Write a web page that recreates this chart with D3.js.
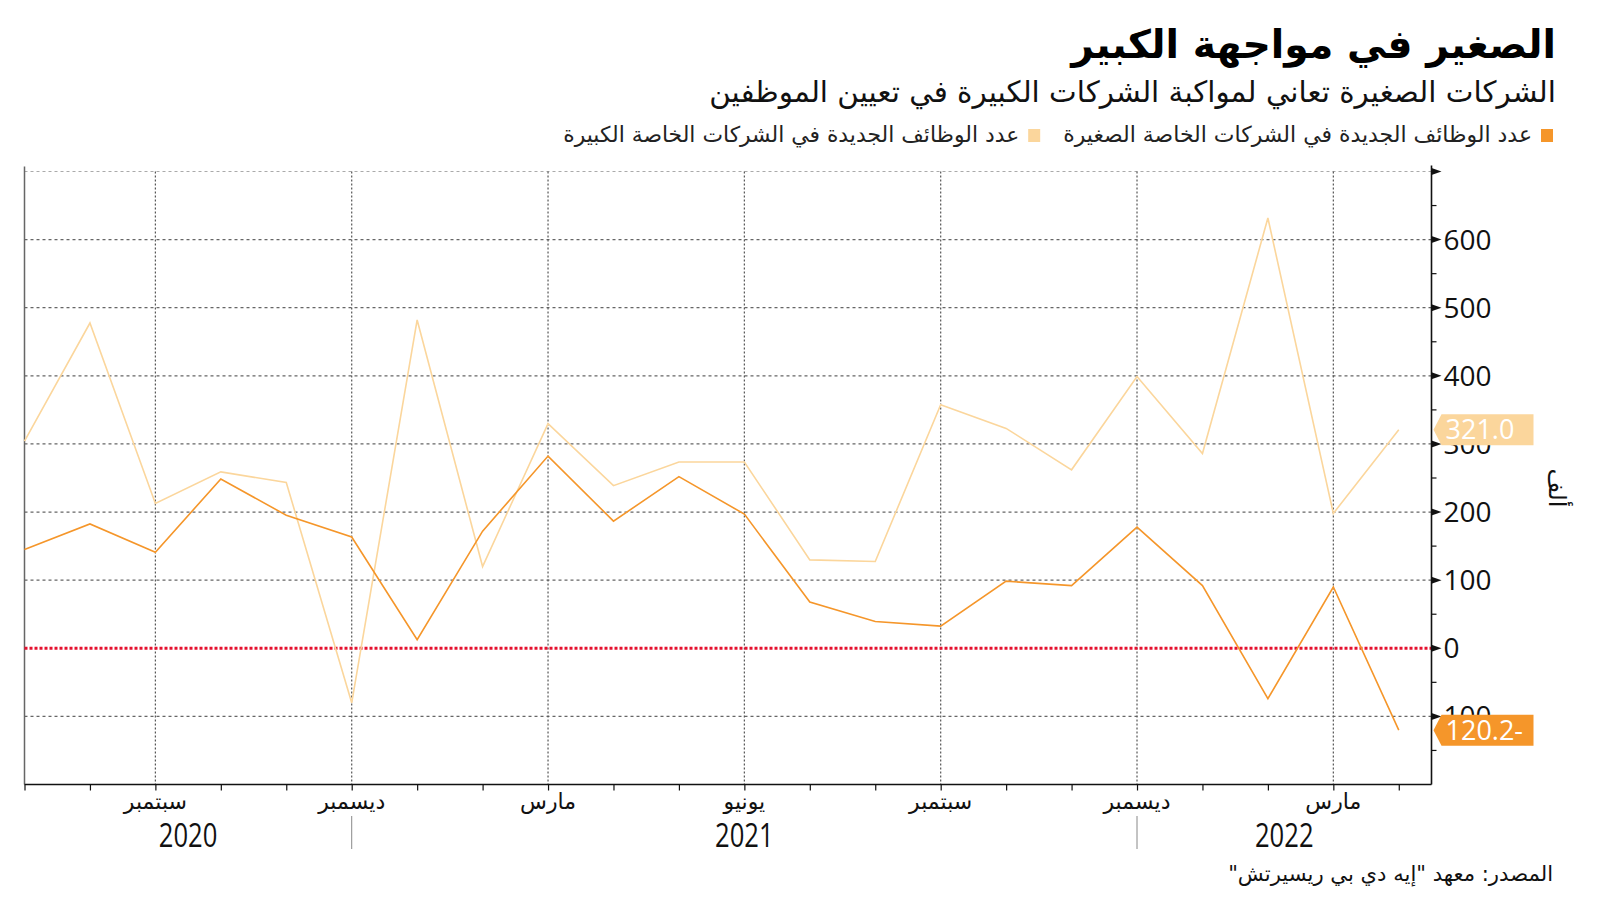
<!DOCTYPE html>
<html lang="ar">
<head>
<meta charset="utf-8">
<script src="https://cdn.jsdelivr.net/npm/d3@7/dist/d3.min.js"></script>
<style>
  html, body { margin: 0; padding: 0; background: #fff; }
  svg { display: block; }
  .ar { font-family: "DejaVu Sans", sans-serif; direction: rtl; unicode-bidi: embed; }
  .num { font-family: "Open Sans", "Noto Sans", sans-serif; }
  .cond { font-family: "Open Sans", "Noto Sans", sans-serif; }
</style>
</head>
<body>
<svg id="chart" width="1600" height="901"></svg>
<script>
// ---------------- DATA ----------------
const months = ["2020-07","2020-08","2020-09","2020-10","2020-11","2020-12",
                "2021-01","2021-02","2021-03","2021-04","2021-05","2021-06",
                "2021-07","2021-08","2021-09","2021-10","2021-11","2021-12",
                "2022-01","2022-02","2022-03","2022-04"];
// new jobs at small private companies (thousands)
const smallFirms = [145, 182.6, 141, 248.6, 195.3, 163.4, 12.7, 172, 282.2, 186.6, 252, 197,
                    67.8, 39.4, 32.5, 98.5, 92, 178, 92, -74, 90, -120.2];
// new jobs at large private companies (thousands)
const largeFirms = [304, 477.5, 212.7, 259, 243.4, -80, 482, 120, 329.8, 238.8, 273.5, 273.5,
                    129.8, 127.5, 357.6, 322.8, 262, 399, 286, 631.7, 198, 321];
const monthTickIdx = [2, 5, 8, 11, 14, 17, 20];
const monthTickLabels = ["سبتمبر", "ديسمبر", "مارس", "يونيو", "سبتمبر", "ديسمبر", "مارس"];
const yearLabels = ["2020", "2021", "2022"];
const yearBreakIdx = [5, 17];
const yTicks = [-100, 0, 100, 200, 300, 400, 500, 600];
const yMinorTicks = [-150, -50, 50, 150, 250, 350, 450, 550, 650];
const title = "الصغير في مواجهة الكبير";
const subtitle = "الشركات الصغيرة تعاني لمواكبة الشركات الكبيرة في تعيين الموظفين";
const seriesNames = ["عدد الوظائف الجديدة في الشركات الخاصة الصغيرة",
                     "عدد الوظائف الجديدة في الشركات الخاصة الكبيرة"];
const unitLabel = "ألف";
const source = "المصدر: معهد \"إيه دي بي ريسيرتش\"";

// ---------------- LAYOUT ----------------
const colSmall = "#f5962a";
const colLarge = "#fbd69c";
const svg = d3.select("#chart");
const L = 24.5, R = 1431.5, T = 171.5, B = 784.5;

const x = d3.scaleLinear().domain([0, 21.5]).range([L, R]);
const y = d3.scaleLinear().domain([-200, 700]).range([B, T]);

function fit(sel, target) {
  const w = sel.node().getComputedTextLength();
  const fs = parseFloat(sel.attr("font-size"));
  sel.attr("font-size", (fs * target / w).toFixed(2));
}

// ---------------- TITLES ----------------
const tt = svg.append("text").attr("class", "ar").attr("x", 1556).attr("y", 58)
  .attr("text-anchor", "start").attr("font-size", 42).attr("font-weight", "bold")
  .attr("fill", "#000").text(title);
fit(tt, 485);
const st = svg.append("text").attr("class", "ar").attr("x", 1556).attr("y", 102)
  .attr("text-anchor", "start").attr("font-size", 28).attr("fill", "#111").text(subtitle);
fit(st, 847);

// legend
const lg = svg.append("g");
let lx = 1553;
[colSmall, colLarge].forEach((c, i) => {
  lg.append("rect").attr("x", lx - 12).attr("y", 129).attr("width", 12).attr("height", 13).attr("fill", c);
  const t = lg.append("text").attr("class", "ar").attr("x", lx - 21).attr("y", 142)
    .attr("text-anchor", "start").attr("font-size", 19).attr("fill", "#222").text(seriesNames[i]);
  fit(t, i === 0 ? 469 : 456);
  lx = lx - 21 - t.node().getComputedTextLength() - 23;
});

// ---------------- GRID ----------------
const grid = svg.append("g");
grid.selectAll("line.h").data(yTicks.filter(v => v !== 0).concat([700])).enter().append("line")
  .attr("x1", L).attr("x2", R).attr("y1", d => y(d)).attr("y2", d => y(d))
  .attr("stroke", d => d === 700 ? "#aaa" : "#666").attr("stroke-width", 1.2)
  .attr("stroke-dasharray", "3,3");
grid.selectAll("line.v").data(monthTickIdx).enter().append("line")
  .attr("x1", d => x(d)).attr("x2", d => x(d)).attr("y1", T).attr("y2", B)
  .attr("stroke", "#555").attr("stroke-width", 1.2).attr("stroke-dasharray", "2,2");
svg.append("line").attr("x1", L).attr("x2", L).attr("y1", T - 5).attr("y2", B)
  .attr("stroke", "#666").attr("stroke-width", 1.5);
svg.append("line").attr("x1", L).attr("x2", R).attr("y1", y(0)).attr("y2", y(0))
  .attr("stroke", "#e5102f").attr("stroke-width", 3).attr("stroke-dasharray", "3,2");

// ---------------- LINES ----------------
const line = d3.line().x((d, i) => x(i)).y(d => y(d));
svg.append("path").datum(largeFirms).attr("d", line).attr("fill", "none")
  .attr("stroke", colLarge).attr("stroke-width", 1.6);
svg.append("path").datum(smallFirms).attr("d", line).attr("fill", "none")
  .attr("stroke", colSmall).attr("stroke-width", 1.6);

// ---------------- X AXIS ----------------
const xAxis = svg.append("g").attr("transform", `translate(0,${B})`)
  .call(d3.axisBottom(x).tickValues(d3.range(0, months.length)).tickSize(6).tickFormat(""));
xAxis.select(".domain").attr("stroke", "#111").attr("stroke-width", 1.6).attr("d", `M${L},0H${R}`);
xAxis.selectAll(".tick line").attr("stroke", "#111").attr("stroke-width", 1.2);
svg.selectAll("text.mlab").data(monthTickIdx).enter().append("text")
  .attr("class", "ar").attr("x", d => x(d)).attr("y", 809).attr("text-anchor", "middle")
  .attr("font-size", 22).attr("fill", "#111").text((d, i) => monthTickLabels[i]);
svg.selectAll("line.yb").data(yearBreakIdx).enter().append("line")
  .attr("x1", d => x(d)).attr("x2", d => x(d)).attr("y1", 816).attr("y2", 849)
  .attr("stroke", "#888").attr("stroke-width", 1);
const bounds = [L, ...yearBreakIdx.map(i => x(i)), R];
svg.selectAll("text.ylab").data(yearLabels).enter().append("text")
  .attr("class", "cond")
  .attr("transform", (d, i) => `translate(${(bounds[i] + bounds[i + 1]) / 2},847) scale(0.8,1)`)
  .attr("text-anchor", "middle").attr("font-size", 32).attr("fill", "#111").text(d => d);

// ---------------- RIGHT AXIS ----------------
const yAxis = svg.append("g").attr("transform", `translate(${R},0)`)
  .call(d3.axisRight(y).tickValues(yTicks).tickSize(0).tickPadding(12)
    .tickFormat(d => d < 0 ? `${Math.abs(d)}-` : `${d}`));
yAxis.select(".domain").attr("stroke", "#111").attr("stroke-width", 1.6).attr("d", `M0,${T - 6}V${B}`);
yAxis.selectAll(".tick text").attr("class", "num").attr("font-size", 28).attr("fill", "#111")
  .attr("dy", "0.34em");
yAxis.selectAll("path.tri").data(yTicks.concat([700])).enter().append("path")
  .attr("d", d => `M0,${y(d) - 3.5}L10,${y(d)}L0,${y(d) + 3.5}Z`).attr("fill", "#111");
yAxis.selectAll("line.minor").data(yMinorTicks).enter().append("line")
  .attr("x1", 0).attr("x2", 5).attr("y1", d => y(d)).attr("y2", d => y(d))
  .attr("stroke", "#111").attr("stroke-width", 1.2);
svg.append("text").attr("class", "ar").attr("transform", "translate(1549,488) rotate(90)")
  .attr("text-anchor", "middle").attr("font-size", 24).attr("fill", "#111").text(unitLabel);

// ---------------- LAST VALUE TAGS ----------------
const last = months.length - 1;
[[largeFirms[last], colLarge], [smallFirms[last], colSmall]].forEach(([v, c]) => {
  const cy = y(v);
  svg.append("path").attr("d", `M${R + 2},${cy}L${R + 10},${cy - 15.5}H${R + 102}V${cy + 15.5}H${R + 10}Z`)
    .attr("fill", c);
  svg.append("text").attr("class", "num").attr("x", R + 14).attr("y", cy).attr("dy", "0.36em")
    .attr("font-size", 27).attr("fill", "#fff")
    .text(v < 0 ? `${Math.abs(v).toFixed(1)}-` : v.toFixed(1));
});

// ---------------- SOURCE ----------------
const src = svg.append("text").attr("class", "ar").attr("x", 1553).attr("y", 881)
  .attr("text-anchor", "start").attr("font-size", 19).attr("fill", "#111").text(source);
fit(src, 325);
</script>
</body>
</html>
